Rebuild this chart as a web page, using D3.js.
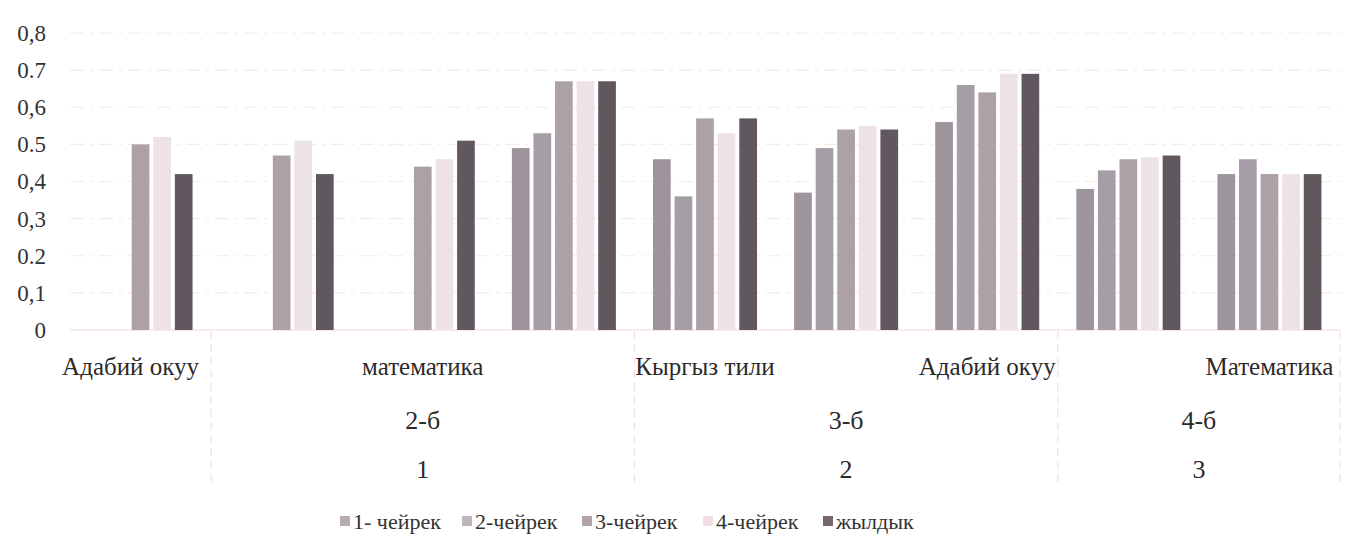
<!DOCTYPE html>
<html><head><meta charset="utf-8">
<script src="https://cdn.jsdelivr.net/npm/d3@7/dist/d3.min.js"></script>
<style>html,body{margin:0;padding:0;background:#fff;}svg{display:block;}</style>
</head><body><svg id="c" width="1347" height="536"></svg>
<script>
const categories = ["Адабий окуу","Кыргыз тили","математика","Адабий окуу","Кыргыз тили","математика","Адабий окуу","Кыргыз тили","Математика"];
const showLabel = [true,false,true,false,true,false,true,false,true];
const classGroups = [{name:"2-б", num:"1", from:1, to:3},{name:"3-б", num:"2", from:4, to:6},{name:"4-б", num:"3", from:7, to:8}];
const seriesNames = ["1- чейрек","2-чейрек","3-чейрек","4-чейрек","жылдык"];
const q1 = [null,null,null,0.49,0.46,0.37,0.56,0.38,0.42];
const q2 = [null,null,null,0.53,0.36,0.49,0.66,0.43,0.46];
const q3 = [0.50,0.47,0.44,0.67,0.57,0.54,0.64,0.46,0.42];
const q4 = [0.52,0.51,0.46,0.67,0.53,0.55,0.69,0.465,0.42];
const year = [0.42,0.42,0.51,0.67,0.57,0.54,0.69,0.47,0.42];
const yTickValues = [0,0.1,0.2,0.3,0.4,0.5,0.6,0.7,0.8];
const yTickLabels = ["0","0,1","0.2","0,3","0,4","0.5","0,6","0.7","0,8"];
const colors = ["#9d949c","#a69ea6","#aba1a7","#ede2e5","#61575e"];
const legendColors = ["#b7acb1","#bdb7bb","#b3a4ab","#f1dde2","#76686f"];

const series = [q1,q2,q3,q4,year];
const svg = d3.select("#c");
const FONT = "Liberation Serif";

const x0 = d3.scaleBand().domain(d3.range(categories.length)).range([70,1340]).padding(0);
const x1 = d3.scaleBand().domain(d3.range(seriesNames.length))
  .range([x0.bandwidth()/2-52, x0.bandwidth()/2+52]).paddingInner(0.18);
const y = d3.scaleLinear().domain([0,0.8]).range([330,33]);

// gridlines
svg.append("g").selectAll("line").data(yTickValues).join("line")
  .attr("x1",70).attr("x2",1340).attr("y1",d=>y(d)).attr("y2",d=>y(d))
  .attr("stroke",d=>d===0?"#eed9db":"#f6e9e9").attr("stroke-width",1.2)
  .attr("stroke-dasharray",d=>d===0?null:"14 6 3 6");

// y axis labels
const yAxis = d3.axisLeft(y).tickValues(yTickValues).tickFormat((d,i)=>yTickLabels[i]).tickSize(0).tickPadding(0);
const ya = svg.append("g").attr("transform","translate(46,0)").call(yAxis);
ya.select(".domain").remove();
ya.attr("font-family",FONT).attr("font-size",23);
ya.selectAll("text").attr("font-family",FONT).attr("fill","#333").attr("dy","0.32em");

// bars
const groups = svg.append("g").selectAll("g").data(categories.map((c,i)=>i)).join("g")
  .attr("transform",i=>`translate(${x0(i)},0)`);
groups.selectAll("rect").data(i=>series.map((s,k)=>({k, v:s[i]})).filter(d=>d.v!==null)).join("rect")
  .attr("x",d=>x1(d.k)).attr("width",x1.bandwidth())
  .attr("y",d=>y(d.v)).attr("height",d=>y(0)-y(d.v))
  .attr("fill",d=>colors[d.k]);

// separators
const seps = [x0(1), x0(4), x0(7), 1340];
svg.append("g").selectAll("line").data(seps).join("line")
  .attr("x1",d=>d).attr("x2",d=>d).attr("y1",331).attr("y2",485)
  .attr("stroke","#f1dfe1").attr("stroke-width",1.2).attr("stroke-dasharray","8 5");

// category labels
svg.append("g").selectAll("text").data(categories.map((c,i)=>({c,i})).filter(d=>showLabel[d.i])).join("text")
  .attr("x",d=>x0(d.i)+x0.bandwidth()/2 - (d.i===0?10:0)).attr("y",375)
  .attr("text-anchor","middle").attr("font-family",FONT).attr("font-size",25).attr("fill","#2a2a2a")
  .text(d=>d.c);

// class labels
const cg = svg.append("g");
cg.selectAll("text.cls").data(classGroups).join("text").attr("class","cls")
  .attr("x",d=>(x0(d.from)+x0(d.to)+x0.bandwidth())/2).attr("y",429)
  .attr("text-anchor","middle").attr("font-family",FONT).attr("font-size",26).attr("fill","#2a2a2a")
  .text(d=>d.name);
cg.selectAll("text.num").data(classGroups).join("text").attr("class","num")
  .attr("x",d=>(x0(d.from)+x0(d.to)+x0.bandwidth())/2).attr("y",478)
  .attr("text-anchor","middle").attr("font-family",FONT).attr("font-size",26).attr("fill","#2a2a2a")
  .text(d=>d.num);

// legend
const legendX = [340,462,582,703,823];
const lg = svg.append("g").selectAll("g").data(seriesNames).join("g")
  .attr("transform",(d,i)=>`translate(${legendX[i]},521)`);
lg.append("rect").attr("x",0).attr("y",-5).attr("width",10).attr("height",10).attr("fill",(d,i)=>legendColors[i]);
lg.append("text").attr("x",13).attr("y",0).attr("dy","0.35em").attr("font-family",FONT).attr("font-size",22).attr("fill","#333").text(d=>d);
</script></body></html>
